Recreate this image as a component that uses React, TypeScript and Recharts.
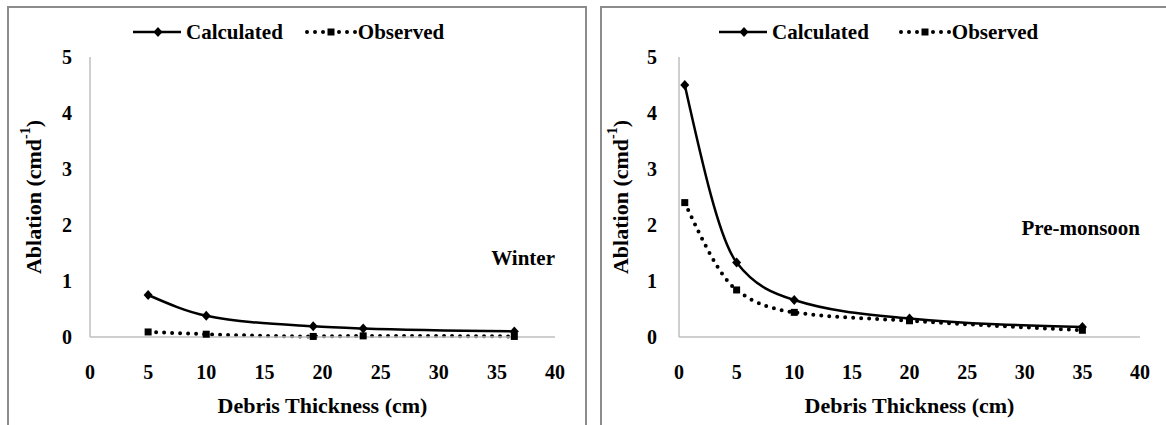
import React from "react";
import {
  LineChart,
  Line,
  XAxis,
  YAxis,
  ReferenceDot,
} from "recharts";

// values
const winterThickness = [5, 10, 19.2, 23.5, 36.5];
const winterCalculated = [0.75, 0.38, 0.19, 0.15, 0.1];
const winterObserved = [0.09, 0.05, 0.01, 0.02, 0.01];

const premonsoonThickness = [0.5, 5, 10, 20, 35];
const premonsoonCalculated = [4.5, 1.33, 0.66, 0.33, 0.18];
const premonsoonObserved = [2.4, 0.84, 0.44, 0.29, 0.12];

const xTicks = [0, 5, 10, 15, 20, 25, 30, 35, 40];
const yTicks = [0, 1, 2, 3, 4, 5];

const FONT = "Liberation Serif, Tinos, DejaVu Serif, Times New Roman, serif";
const AXIS_GREY = "#bfbfbf";

const buildRows = (xs: number[], calc: number[], obs: number[]) =>
  xs.map((x, i) => ({ thickness: x, calculated: calc[i], observed: obs[i] }));

const DiamondDot = (props: any) => {
  const { cx, cy } = props;
  if (cx == null || cy == null) return null;
  return (
    <polygon
      key={`d-${props.index}`}
      points={`${cx},${cy - 5} ${cx + 4.5},${cy} ${cx},${cy + 5} ${cx - 4.5},${cy}`}
      fill="#000"
    />
  );
};

const SquareDot = (props: any) => {
  const { cx, cy } = props;
  if (cx == null || cy == null) return null;
  return (
    <rect key={`s-${props.index}`} x={cx - 3.5} y={cy - 3.5} width={7} height={7} fill="#000" />
  );
};

const LegendBox = ({ left, gap }: { left: number; gap: number }) => (
  <div
    style={{
      position: "absolute",
      left,
      top: 12,
      height: 24,
      display: "flex",
      alignItems: "center",
      fontFamily: FONT,
      fontWeight: "bold",
      fontSize: 21,
      color: "#000",
      whiteSpace: "nowrap",
    }}
  >
    <svg width={48} height={20}>
      <line x1={0} y1={10} x2={48} y2={10} stroke="#000" strokeWidth={2.5} />
      <polygon points="25,5 29.5,10 25,15 20.5,10" fill="#000" />
    </svg>
    <span style={{ marginLeft: 5 }}>Calculated</span>
    <svg width={52} height={20} style={{ marginLeft: gap }}>
      <line
        x1={2}
        y1={10}
        x2={52}
        y2={10}
        stroke="#000"
        strokeWidth={4}
        strokeDasharray="0 8"
        strokeLinecap="round"
      />
      <rect x={22.5} y={6.5} width={7} height={7} fill="#000" />
    </svg>
    <span style={{ marginLeft: 1 }}>Observed</span>
  </div>
);

interface PanelProps {
  left: number;
  rows: { thickness: number; calculated: number; observed: number }[];
  yAxisWidth: number;
  marginRight: number;
  yTickMargin: number;
  yTitleX: number;
  season: string;
  seasonY: number;
  legendLeft: number;
  legendGap: number;
}

const Panel = ({
  left,
  rows,
  yAxisWidth,
  marginRight,
  yTickMargin,
  yTitleX,
  season,
  seasonY,
  legendLeft,
  legendGap,
}: PanelProps) => (
  <div
    style={{
      position: "absolute",
      left,
      top: 6,
      width: 576,
      height: 430,
      border: "2px solid #8c8c8c",
      background: "#fff",
    }}
  >
    <LegendBox left={legendLeft} gap={legendGap} />
    <LineChart
      width={576}
      height={420}
      data={rows}
      margin={{ top: 49, right: marginRight, left: 5, bottom: 0 }}
    >
      <XAxis
        dataKey="thickness"
        type="number"
        domain={[0, 40]}
        ticks={xTicks}
        interval={0}
        height={91}
        tickLine={false}
        tickSize={0}
        tickMargin={28}
        axisLine={{ stroke: AXIS_GREY, strokeWidth: 1.5 }}
        tick={{ fill: "#000", fontSize: 20, fontWeight: "bold", fontFamily: FONT }}
        label={({ viewBox }: any) => (
          <text
            x={viewBox.x + viewBox.width / 2}
            y={viewBox.y + 68}
            textAnchor="middle"
            dominantBaseline="central"
            fontFamily={FONT}
            fontWeight="bold"
            fontSize={22}
            fill="#000"
          >
            Debris Thickness (cm)
          </text>
        )}
      />
      <YAxis
        type="number"
        domain={[0, 5]}
        ticks={yTicks}
        interval={0}
        width={yAxisWidth}
        tickLine={false}
        tickSize={0}
        tickMargin={yTickMargin}
        axisLine={{ stroke: AXIS_GREY, strokeWidth: 1.5 }}
        tick={{ fill: "#000", fontSize: 20, fontWeight: "bold", fontFamily: FONT }}
        label={({ viewBox }: any) => {
          const cx = viewBox.x + yTitleX;
          const cy = viewBox.y + viewBox.height / 2;
          return (
            <text
              x={cx}
              y={cy}
              transform={`rotate(-90 ${cx} ${cy})`}
              textAnchor="middle"
              dominantBaseline="central"
              fontFamily={FONT}
              fontWeight="bold"
              fontSize={22}
              fill="#000"
            >
              Ablation (cmd
              <tspan fontSize={14} dy={-8}>
                -1
              </tspan>
              <tspan dy={8}>)</tspan>
            </text>
          );
        }}
      />
      <ReferenceDot
        x={40}
        y={seasonY}
        r={0}
        fill="none"
        stroke="none"
        label={({ viewBox }: any) => (
          <text
            x={viewBox.x}
            y={viewBox.y}
            textAnchor="end"
            dominantBaseline="central"
            fontFamily={FONT}
            fontWeight="bold"
            fontSize={21}
            fill="#000"
          >
            {season}
          </text>
        )}
      />
      <Line
        type="monotone"
        dataKey="observed"
        stroke="#000"
        strokeWidth={4}
        strokeDasharray="0 8"
        strokeLinecap="round"
        dot={(p: any) => <SquareDot key={`o-${p.index}`} {...p} />}
        activeDot={false}
        isAnimationActive={false}
      />
      <Line
        type="monotone"
        dataKey="calculated"
        stroke="#000"
        strokeWidth={2.5}
        dot={(p: any) => <DiamondDot key={`c-${p.index}`} {...p} />}
        activeDot={false}
        isAnimationActive={false}
      />
    </LineChart>
  </div>
);

const App = () => {
  const winterRows = buildRows(winterThickness, winterCalculated, winterObserved);
  const premonsoonRows = buildRows(premonsoonThickness, premonsoonCalculated, premonsoonObserved);
  return (
    <div
      style={{
        position: "absolute",
        left: 0,
        top: 0,
        width: 1166,
        height: 425,
        overflow: "hidden",
        background: "#fff",
      }}
    >
      <Panel
        left={7}
        rows={winterRows}
        yAxisWidth={76}
        marginRight={30}
        yTickMargin={18}
        yTitleX={19}
        season="Winter"
        seasonY={1.41}
        legendLeft={124}
        legendGap={22}
      />
      <Panel
        left={600}
        rows={premonsoonRows}
        yAxisWidth={72}
        marginRight={38}
        yTickMargin={22}
        yTitleX={13}
        season="Pre-monsoon"
        seasonY={1.95}
        legendLeft={117}
        legendGap={30}
      />
    </div>
  );
};

export default App;
